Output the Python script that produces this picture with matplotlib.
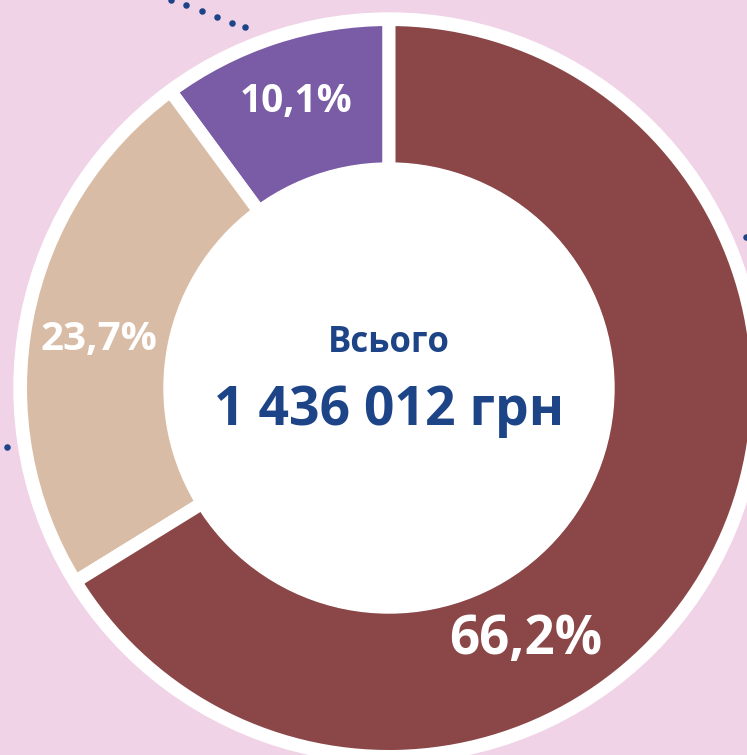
import matplotlib.pyplot as plt
import math

# slice values, counter-clockwise from the top
shares = [10.1, 23.7, 66.2]
labels = ["10,1%", "23,7%", "66,2%"]
colors = ["#7A5CA6", "#D9BCA5", "#8B4747"]
# label placement (angle in degrees, radius in px) and font size
label_pos = [(108.0, 301), (170.6, 294), (298.5, 287)]
label_size = [28, 29, 38]

title_text = "Всього"
total_text = "1 436 012 грн"

# decorative dots, image pixel coords
dots_x = [171, 186, 202, 217, 232, 245, 746, 7]
dots_y = [0, 5, 11, 17, 23, 27, 237, 447]

W, H = 747, 755
CX, CY = 389, 388          # donut centre in pixels
BG = "#F0D3E6"
BLUE = "#1E4488"
FONT = "Open Sans"

fig = plt.figure(figsize=(W / 100, H / 100), dpi=100, facecolor=BG)
ax = fig.add_axes([0, 0, 1, 1])
ax.set_facecolor(BG)

# white ring behind the wedges
ax.add_patch(plt.Circle((0, 0), 375, color="white", zorder=0))

gap = 13 * 72 / 100  # 13 px white gaps
R = 368.5
ax.pie(shares, colors=colors, startangle=90, counterclock=True, radius=R,
       wedgeprops=dict(width=150, edgecolor="white", linewidth=gap))
ax.add_patch(plt.Circle((0, 0), 225, color="white", zorder=3))

for lab, (ang, r), fs in zip(labels, label_pos, label_size):
    a = math.radians(ang)
    ax.text(r * math.cos(a), r * math.sin(a), lab, color="white", fontsize=fs,
            fontweight="bold", family=FONT, ha="center", va="center", zorder=5)

ax.text(0, CY - 343, title_text, color=BLUE, fontsize=25, fontweight="bold",
        family=FONT, ha="center", va="center", zorder=5)
ax.text(0, CY - 411, total_text, color=BLUE, fontsize=38.5, fontweight="bold",
        family=FONT, ha="center", va="center", zorder=5)

ax.scatter([x - CX for x in dots_x], [CY - y for y in dots_y], s=22,
           color=BLUE, zorder=1, linewidths=0)

ax.set_xlim(-CX, W - CX)
ax.set_ylim(CY - H, CY)
ax.set_aspect("auto")
ax.axis("off")

fig.savefig("out.png", dpi=100, facecolor=BG)
